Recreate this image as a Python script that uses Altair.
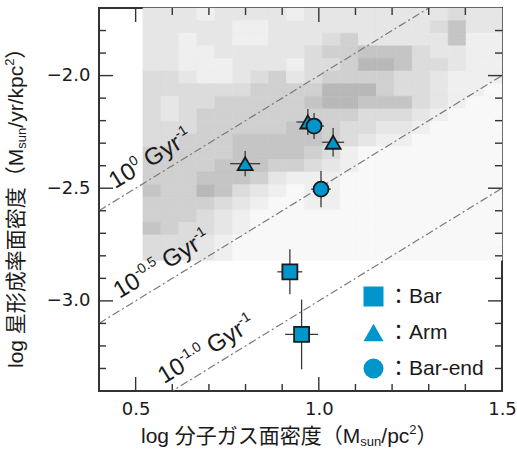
import altair as alt
import pandas as pd
import math

# ---- plot geometry -------------------------------------------------------
W, H = 403, 383
X_DOMAIN = [0.4, 1.5]
Y_DOMAIN = [-3.4, -1.7]

BLUE = "#0096cc"
INK = "#1a1a1a"
FRAME = "#333333"
TEXT_FONT = "Liberation Sans, Noto Sans CJK JP"
TICK_FONT = "DejaVu Sans"

# ---- measurements: molecular gas vs. star-formation surface density ------
region = ["Bar", "Bar", "Arm", "Arm", "Arm", "Bar-end", "Bar-end"]
log_gas = [0.921, 0.953, 0.799, 0.970, 1.039, 0.987, 1.006]
log_sfr = [-2.871, -3.149, -2.391, -2.206, -2.296, -2.224, -2.504]
gas_err = [0.034, 0.045, 0.041, 0.031, 0.030, 0.027, 0.027]
sfr_err = [0.100, 0.155, 0.056, 0.058, 0.063, 0.058, 0.080]

region_order = ["Bar", "Arm", "Bar-end"]
region_shape = ["square", "triangle-up", "circle"]

# ---- constant star-formation-efficiency lines (log SFE in Gyr^-1) --------
sfe_exp = [0.0, -0.5, -1.0]
sfe_sup = ["0", "-0.5", "-1.0"]
sfe_label_x = [0.458, 0.470, 0.592]

# ---- pixel-by-pixel background distribution (gray level, top row first) --
grid_x0, grid_dx = 0.52, 0.049
grid_ytop, grid_dy = -1.70, 0.056
density_rows = [
    "22212222122222222322",
    "22222112222222223522",
    "22122112223422222511",
    "22112222234455532211",
    "22111222133466533211",
    "33211234234444332111",
    "33333344446664332110",
    "32334444456655532100",
    "32344444444433321000",
    "33344444554332210000",
    "33444555554321100000",
    "44444555543100000000",
    "44445554432100000000",
    "44455542111000000000",
    "54465321011000000000",
    "44443210011000000000",
    "44432100000000000000",
    "54332100000000000000",
    "33321000000000000000",
    "33221000000000000000",
]
gray_levels = ["#f8f8f8", "#efefef", "#e6e6e6", "#dcdcdc",
               "#d0d0d0", "#c5c5c5", "#b8b8b8"]

# ---- axis ticks ----------------------------------------------------------
x_labels = [0.5, 1.0, 1.5]
y_labels = [-3.0, -2.5, -2.0]
x_major = [0.5, 1.0]
x_minor = [0.6, 0.7, 0.8, 0.9, 1.1, 1.2, 1.3, 1.4]
y_major = [-3.0, -2.5, -2.0]
y_minor = [-3.3, -3.2, -3.1, -2.9, -2.8, -2.7, -2.6,
           -2.4, -2.3, -2.2, -2.1, -1.9, -1.8]
MAJOR_LEN, MINOR_LEN = 14, 7

xs = alt.Scale(domain=X_DOMAIN, nice=False, zero=False)
ys = alt.Scale(domain=Y_DOMAIN, nice=False, zero=False)

x_axis = alt.Axis(values=x_labels, format=".1f", ticks=False, domain=False,
                  grid=False, labelFont=TICK_FONT, labelFontSize=18,
                  labelColor=INK, labelPadding=9, labelFlush=False,
                  labelOverlap=False, title=None)
y_axis = alt.Axis(values=y_labels, format=".1f", ticks=False, domain=False,
                  grid=False, labelFont=TICK_FONT, labelFontSize=18,
                  labelColor=INK, labelPadding=9, labelFlush=False,
                  labelOverlap=False, title=None)


def X(field):
    return alt.X(field, scale=xs, axis=x_axis)


def Y(field):
    return alt.Y(field, scale=ys, axis=y_axis)


# advance widths (em) for the Latin glyphs used in the rich-text labels
ADV = {"l": .222, "o": .556, "g": .556, " ": .278, "M": .833, "s": .5,
       "u": .556, "n": .556, "/": .278, "p": .556, "c": .5, "y": .5,
       "r": .333, "k": .5, "G": .778, "-": .333, ".": .278}


def advance(s, size):
    return size * sum(1.0 if ord(ch) > 0x2E7F else ADV.get(ch, 0.556) for ch in s)


def rich_text(pieces, data, x_enc, y_enc, angle=0, base_dy=0.0):
    """Lay out (text, size, baseline shift) pieces one after another.
    Leading spaces are turned into extra offset (SVG collapses them)."""
    layers, off = [], 0.0
    for txt, size, shift in pieces:
        stripped = txt.lstrip(" ")
        off += advance(txt[: len(txt) - len(stripped)], size)
        kw = dict(text=stripped, font=TEXT_FONT, fontSize=size, align="left",
                  baseline="alphabetic", color=INK, dx=off, dy=base_dy + shift)
        if angle:
            kw["angle"] = angle
        layers.append(alt.Chart(data).mark_text(**kw).encode(x=x_enc, y=y_enc))
        off += advance(stripped, size)
    return layers


# ---- background cells ----------------------------------------------------
cells = []
for j, row in enumerate(density_rows):
    for i, ch in enumerate(row):
        cells.append({
            "x0": grid_x0 + i * grid_dx, "x1": grid_x0 + (i + 1) * grid_dx,
            "y1": grid_ytop - j * grid_dy, "y0": grid_ytop - (j + 1) * grid_dy,
            "level": int(ch),
        })
cells = pd.DataFrame(cells)
gray_scale = alt.Scale(domain=list(range(len(gray_levels))), range=gray_levels)

background = alt.Chart(cells).mark_rect(strokeWidth=0.6).encode(
    x=X("x0:Q"), x2="x1",
    y=Y("y0:Q"), y2="y1",
    fill=alt.Fill("level:O", scale=gray_scale, legend=None),
    stroke=alt.Stroke("level:O", scale=gray_scale, legend=None),
)

# ---- SFE lines -----------------------------------------------------------
line_rows = []
for e in sfe_exp:
    for x in X_DOMAIN:
        line_rows.append({"sfe": str(e), "x": x, "y": x - 3.0 + e})
sfe_lines = alt.Chart(pd.DataFrame(line_rows)).mark_line(
    clip=True, color="#7a7a7a", strokeWidth=1.2, strokeDash=[8, 3, 2, 3]
).encode(x=X("x:Q"), y=Y("y:Q"), detail="sfe:N")

# label angle follows the slope of a 1:1 line in pixel space
slope_deg = math.degrees(math.atan((H / (Y_DOMAIN[1] - Y_DOMAIN[0])) /
                                   (W / (X_DOMAIN[1] - X_DOMAIN[0]))))
label_angle = 360 - slope_deg
sfe_labels = []
for e, sup, lx in zip(sfe_exp, sfe_sup, sfe_label_x):
    d = pd.DataFrame({"x": [lx], "y": [lx - 3.0 + e]})
    sfe_labels += rich_text(
        [("10", 24, 0), (sup, 14, -10), (" Gyr", 24, 0), ("-1", 14, -10)],
        d, X("x:Q"), Y("y:Q"), angle=label_angle, base_dy=-10,
    )

# ---- data points with error bars ----------------------------------------
pts = pd.DataFrame({"region": region, "gas": log_gas, "sfr": log_sfr,
                    "gerr": gas_err, "serr": sfr_err})
pts["g_lo"] = pts.gas - pts.gerr
pts["g_hi"] = pts.gas + pts.gerr
pts["s_lo"] = pts.sfr - pts.serr
pts["s_hi"] = pts.sfr + pts.serr

xerr = alt.Chart(pts).mark_rule(color="#3a3a3a", strokeWidth=1.3).encode(
    x=X("g_lo:Q"), x2="g_hi", y=Y("sfr:Q"),
)
yerr = alt.Chart(pts).mark_rule(color="#3a3a3a", strokeWidth=1.3).encode(
    x=X("gas:Q"), y=Y("s_lo:Q"), y2="s_hi",
)

points = alt.Chart(pts).mark_point(
    filled=True, size=225, fill=BLUE, stroke=INK, strokeWidth=1.8, opacity=1
).encode(
    x=X("gas:Q"),
    y=Y("sfr:Q"),
    shape=alt.Shape(
        "region:N",
        scale=alt.Scale(domain=region_order, range=region_shape),
        legend=alt.Legend(
            title=None, orient="none", legendX=264, legendY=278, padding=0,
            symbolSize=400, symbolFillColor=BLUE, symbolStrokeColor=BLUE,
            symbolStrokeWidth=0, symbolOpacity=1, labelFont=TEXT_FONT,
            labelFontSize=21, labelColor=INK, labelOffset=4, rowPadding=14,
            labelExpr="'：' + datum.label",
        ),
    ),
)


# ---- inward ticks on all four sides -------------------------------------
def tick_layer(vals, side, length):
    c = alt.Chart(pd.DataFrame({"v": vals})).mark_rule(color=FRAME, strokeWidth=1.4)
    if side in ("top", "bottom"):
        y0 = 0 if side == "top" else H
        y1 = length if side == "top" else H - length
        return c.encode(x=X("v:Q"), y=alt.value(y0), y2=alt.value(y1))
    x0 = 0 if side == "left" else W
    x1 = length if side == "left" else W - length
    return c.encode(y=Y("v:Q"), x=alt.value(x0), x2=alt.value(x1))


ticks = []
for side in ("top", "bottom"):
    ticks.append(tick_layer(x_major, side, MAJOR_LEN))
    ticks.append(tick_layer(x_minor, side, MINOR_LEN))
for side in ("left", "right"):
    ticks.append(tick_layer(y_major, side, MAJOR_LEN))
    ticks.append(tick_layer(y_minor, side, MINOR_LEN))

# ---- axis titles with sub/superscripts ----------------------------------
one = pd.DataFrame({"k": [0]})
x_title = rich_text(
    [("log 分子ガス面密度（M", 21, 0), ("sun", 13, 3), ("/pc", 21, 0),
     ("2", 13, -9), ("）", 21, 0)],
    one, alt.value(42), alt.value(435),
)
y_title = rich_text(
    [("log 星形成率面密度（M", 21, 0), ("sun", 13, 3), ("/yr/kpc", 21, 0),
     ("2", 13, -9), ("）", 21, 0)],
    one, alt.value(-76), alt.value(360), angle=270,
)

chart = alt.layer(
    background, sfe_lines, *sfe_labels, xerr, yerr, points, *ticks,
    *x_title, *y_title,
).properties(
    width=W, height=H,
    autosize=alt.AutoSizeParams(type="none"),
    padding={"left": 99, "top": 8, "right": 15, "bottom": 64},
).configure_view(stroke=FRAME, strokeWidth=2)

chart.save("out.html", embed_options={"renderer": "svg", "actions": False})
